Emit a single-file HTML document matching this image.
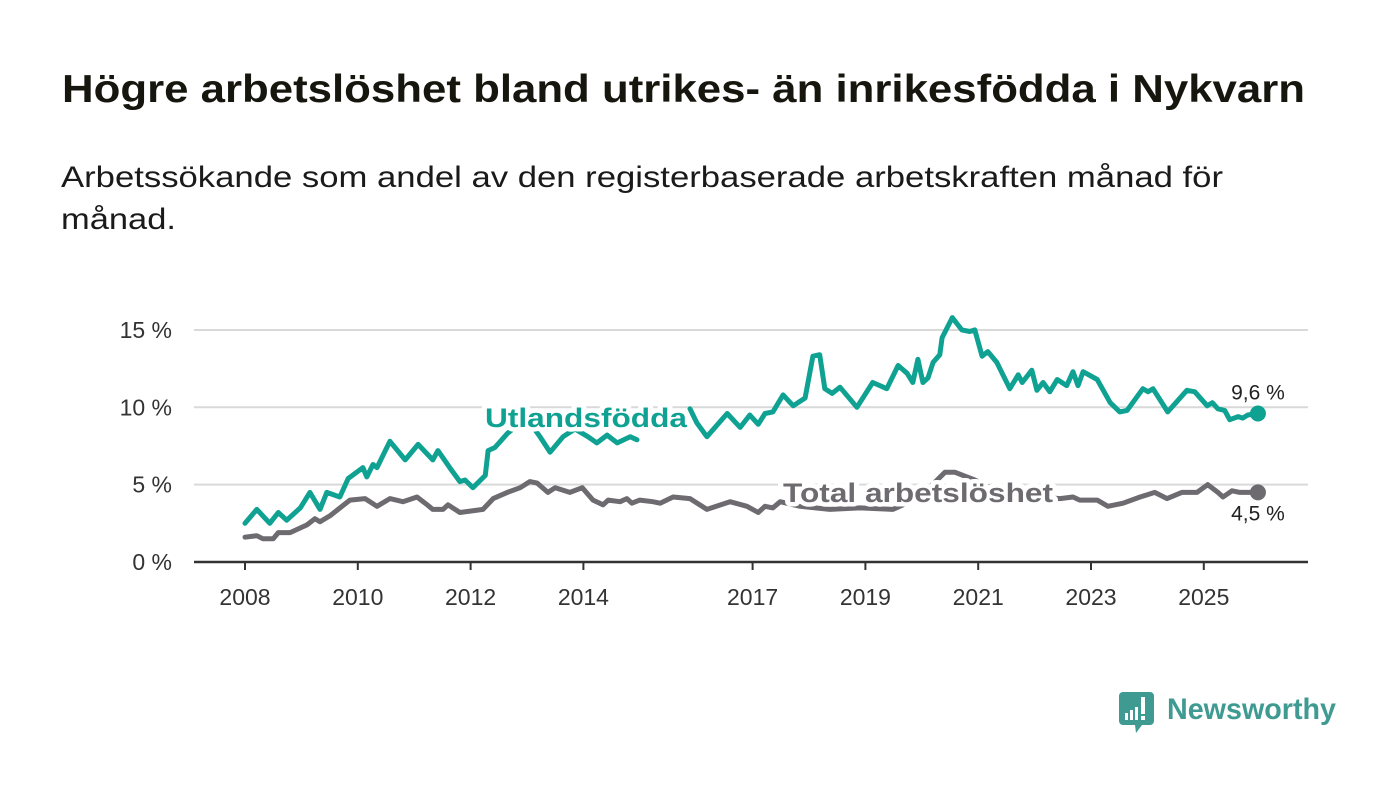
<!DOCTYPE html>
<html><head><meta charset="utf-8"><style>
html,body{margin:0;padding:0;background:#fff;}
svg{display:block;font-family:"Liberation Sans",sans-serif;}
</style></head><body>
<svg id="chart" width="1400" height="794" viewBox="0 0 1400 794" xmlns="http://www.w3.org/2000/svg">
<rect width="1400" height="794" fill="#fff"/>
<text x="62" y="102" font-size="39" font-weight="bold" fill="#16160f" textLength="1243" lengthAdjust="spacingAndGlyphs">Högre arbetslöshet bland utrikes- än inrikesfödda i Nykvarn</text>
<text x="61" y="187" font-size="30" fill="#1a1a1a" textLength="1162" lengthAdjust="spacingAndGlyphs">Arbetssökande som andel av den registerbaserade arbetskraften månad för</text>
<text x="61" y="229" font-size="30" fill="#1a1a1a" textLength="115" lengthAdjust="spacingAndGlyphs">månad.</text>
<g id="grid"></g>
<g id="yax"></g>
<g id="xax"></g>
<g id="series"></g>
<g id="labels"></g>
<g>
<path d="M1123 692 H1150 a4 4 0 0 1 4 4 V721 a4 4 0 0 1 -4 4 H1142 L1136 733 L1135 725 H1123 a4 4 0 0 1 -4 -4 V696 a4 4 0 0 1 4 -4 Z" fill="#3f9a91"/>
<rect x="1125" y="713" width="3" height="7" fill="#fff"/>
<rect x="1130" y="710" width="3" height="10" fill="#fff"/>
<rect x="1135" y="707" width="3" height="13" fill="#fff"/>
<rect x="1141" y="697" width="4" height="17" fill="#fff"/>
<rect x="1141" y="716" width="4" height="4" fill="#fff"/>
<text x="1167" y="719" font-size="30" font-weight="bold" fill="#3f9a91" textLength="169" lengthAdjust="spacingAndGlyphs">Newsworthy</text>
</g>
</svg>
<script>
const yTicks=[0,5,10,15];
const yTickLabels=["0 %","5 %","10 %","15 %"];
const xTicks=[2008,2010,2012,2014,2017,2019,2021,2023,2025];
const greenDates=[2008.0,2008.21,2008.44,2008.59,2008.74,2008.98,2009.15,2009.33,2009.45,2009.68,2009.83,2010.09,2010.16,2010.27,2010.34,2010.57,2010.84,2011.07,2011.33,2011.42,2011.63,2011.81,2011.9,2012.04,2012.26,2012.31,2012.43,2012.65,2012.88,2013.09,2013.23,2013.41,2013.64,2013.85,2014.08,2014.24,2014.42,2014.6,2014.83,2014.95,null,2015.89,2016.01,2016.19,2016.55,2016.78,2016.95,2017.1,2017.22,2017.36,2017.54,2017.72,2017.93,2018.07,2018.19,2018.28,2018.41,2018.55,2018.85,2019.13,2019.38,2019.58,2019.74,2019.84,2019.93,2020.02,2020.11,2020.2,2020.32,2020.36,2020.54,2020.71,2020.85,2020.94,2021.07,2021.17,2021.33,2021.56,2021.71,2021.78,2021.95,2022.04,2022.15,2022.27,2022.4,2022.57,2022.68,2022.77,2022.86,2023.11,2023.34,2023.51,2023.64,2023.92,2024.01,2024.1,2024.36,2024.7,2024.84,2025.06,2025.15,2025.25,2025.37,2025.46,2025.61,2025.69,2025.78,2025.96];
const greenValues=[2.5,3.4,2.5,3.2,2.7,3.5,4.5,3.4,4.5,4.2,5.4,6.1,5.5,6.3,6.1,7.8,6.6,7.6,6.6,7.2,6.1,5.2,5.3,4.8,5.6,7.2,7.4,8.3,9.0,8.8,8.1,7.1,8.1,8.6,8.1,7.7,8.2,7.7,8.1,7.9,null,9.9,9.0,8.1,9.6,8.7,9.5,8.9,9.6,9.7,10.8,10.1,10.6,13.3,13.4,11.2,10.9,11.3,10.0,11.6,11.2,12.7,12.2,11.6,13.1,11.6,11.9,12.9,13.4,14.5,15.8,15.0,14.9,15.0,13.3,13.6,12.9,11.2,12.1,11.6,12.4,11.1,11.6,11.0,11.8,11.4,12.3,11.4,12.3,11.8,10.3,9.7,9.8,11.2,11.0,11.2,9.7,11.1,11.0,10.1,10.3,9.9,9.8,9.2,9.4,9.3,9.5,9.6];
const grayDates=[2008.0,2008.21,2008.32,2008.5,2008.59,2008.8,2009.1,2009.24,2009.33,2009.51,2009.65,2009.86,2010.13,2010.34,2010.57,2010.8,2011.05,2011.23,2011.33,2011.51,2011.6,2011.81,2012.22,2012.4,2012.65,2012.88,2013.05,2013.18,2013.37,2013.5,2013.76,2013.98,2014.17,2014.35,2014.44,2014.65,2014.77,2014.86,2015.0,2015.23,2015.36,2015.59,2015.89,2016.19,2016.6,2016.9,2017.1,2017.22,2017.36,2017.49,2017.84,2018.37,2018.9,2019.49,2019.97,2020.41,2020.59,2020.94,2021.39,2022.1,2022.45,2022.68,2022.8,2023.11,2023.3,2023.57,2023.87,2024.13,2024.35,2024.61,2024.88,2025.07,2025.25,2025.34,2025.5,2025.64,2025.76,2025.96];
const grayValues=[1.6,1.7,1.5,1.5,1.9,1.9,2.4,2.8,2.6,3.0,3.4,4.0,4.1,3.6,4.1,3.9,4.2,3.7,3.4,3.4,3.7,3.2,3.4,4.1,4.5,4.8,5.2,5.1,4.5,4.8,4.5,4.8,4.0,3.7,4.0,3.9,4.1,3.8,4.0,3.9,3.8,4.2,4.1,3.4,3.9,3.6,3.2,3.6,3.5,3.9,3.6,3.4,3.5,3.4,4.2,5.8,5.8,5.3,4.5,4.2,4.1,4.2,4.0,4.0,3.6,3.8,4.2,4.5,4.1,4.5,4.5,5.0,4.5,4.2,4.6,4.5,4.5,4.5];
const endLabels=["9,6 %","4,5 %"];

const NS="http://www.w3.org/2000/svg";
const X=t=>245+(t-2008)*56.4;
const Y=v=>562-v*15.47;
function mk(tag,attrs,parent){const e=document.createElementNS(NS,tag);for(const k in attrs)e.setAttribute(k,attrs[k]);parent.appendChild(e);return e;}
const grid=document.getElementById('grid'),yax=document.getElementById('yax'),xax=document.getElementById('xax'),ser=document.getElementById('series'),lab=document.getElementById('labels');
yTicks.forEach((v,i)=>{
  if(v>0){const l=mk('line',{x1:194,x2:1308,y1:Y(v),y2:Y(v),stroke:'#d9d9d9','stroke-width':2},grid);
  
  }
  const t=mk('text',{x:172,y:Y(v)+8,'font-size':23,'text-anchor':'end',fill:'#333'},yax);
  t.textContent=yTickLabels[i];
  
  
});
const ax=mk('line',{x1:194,x2:1308,y1:562,y2:562,stroke:'#333','stroke-width':2.5},xax);


xTicks.forEach(y=>{
  const tk=mk('line',{x1:X(y),x2:X(y),y1:562,y2:570,stroke:'#333','stroke-width':2},xax);
  
  
  const t=mk('text',{x:X(y),y:605,'font-size':23,'text-anchor':'middle',fill:'#333'},xax);
  t.textContent=String(y);
  
  
});
function pathD(ds,vs){let d='',pen=false;for(let i=0;i<ds.length;i++){if(ds[i]==null||vs[i]==null){pen=false;continue;}d+=(pen?'L':'M')+X(ds[i]).toFixed(1)+' '+Y(vs[i]).toFixed(1)+' ';pen=true;}return d;}
const gp=mk('path',{d:pathD(grayDates,grayValues),fill:'none',stroke:'#6d6b70','stroke-width':5,'stroke-linejoin':'round','stroke-linecap':'round'},ser);


const tp=mk('path',{d:pathD(greenDates,greenValues),fill:'none',stroke:'#0fa292','stroke-width':5,'stroke-linejoin':'round','stroke-linecap':'round'},ser);


const gl=greenDates.length-1, al=grayDates.length-1;
const c1=mk('circle',{cx:X(greenDates[gl]),cy:Y(greenValues[gl]),r:8,fill:'#0fa292'},ser);


const c2=mk('circle',{cx:X(grayDates[al]),cy:Y(grayValues[al]),r:8,fill:'#6d6b70'},ser);


const e1=mk('text',{x:X(greenDates[gl]),y:Y(greenValues[gl])-14,'font-size':21,'text-anchor':'middle',fill:'#222',stroke:'#fff','stroke-width':5,'paint-order':'stroke'},lab);
e1.textContent=endLabels[0];


const e2=mk('text',{x:X(grayDates[al]),y:Y(grayValues[al])+28,'font-size':21,'text-anchor':'middle',fill:'#222',stroke:'#fff','stroke-width':5,'paint-order':'stroke'},lab);
e2.textContent=endLabels[1];


const l1=mk('text',{x:485,y:427,'font-size':27,'font-weight':'bold',fill:'#0fa292',stroke:'#fff','stroke-width':9,'stroke-linejoin':'round','paint-order':'stroke',textLength:202,lengthAdjust:'spacingAndGlyphs'},lab);
l1.textContent='Utlandsfödda';


const l2=mk('text',{x:783,y:502,'font-size':27,'font-weight':'bold',fill:'#6d6b70',stroke:'#fff','stroke-width':9,'stroke-linejoin':'round','paint-order':'stroke',textLength:270,lengthAdjust:'spacingAndGlyphs'},lab);
l2.textContent='Total arbetslöshet';


</script>
</body></html>
